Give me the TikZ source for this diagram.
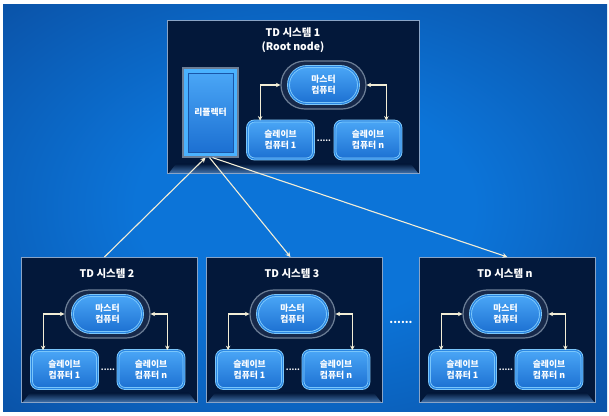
\documentclass[tikz,border=0pt]{standalone}
\usepackage{fontspec}
\setmainfont{Noto Sans CJK KR}
\usetikzlibrary{arrows.meta,calc}

\definecolor{bgin}{HTML}{0C74D8}
\definecolor{bgmid}{HTML}{0A4C9E}
\definecolor{bgout}{HTML}{0B2352}
\definecolor{boxfill}{HTML}{03183A}
\definecolor{boxedge}{HTML}{8AA4C6}
\definecolor{floorc}{HTML}{3F6FA8}
\definecolor{nodeblue}{HTML}{1C70D2}
\definecolor{nodelight}{HTML}{4AA6F6}
\definecolor{nodeedge}{HTML}{86D0FF}
\definecolor{coregroove}{HTML}{2A86E2}
\definecolor{ringfill}{HTML}{17294A}
\definecolor{ringedge}{HTML}{6C7E96}
\definecolor{reflcyan}{HTML}{4AB2FF}
\definecolor{refline}{HTML}{1A56A8}
\definecolor{arrowc}{HTML}{F2EDD6}

\pgfdeclareradialshading{bgshade}{\pgfpoint{0bp}{0bp}}{color(0bp)=(bgin); color(14bp)=(bgin); color(40bp)=(bgmid); color(68bp)=(bgout)}

\newcommand\floorstrip[1]{%
  \shade[top color=boxfill, bottom color=floorc]
    ($(#1.south west)+(2,-1)$) -- ($(#1.south east)+(-2,-1)$) --
    ($(#1.south east)+(-9,-10)$) -- ($(#1.south west)+(9,-10)$) -- cycle;}

\begin{document}
\begin{tikzpicture}[x=1pt,y=-1pt,
  sysbox/.style={draw=boxedge, line width=0.9pt, fill=boxfill, inner sep=0pt, anchor=north west},
  title/.style={text=white, font=\bfseries\fontsize{10.5}{14}\selectfont, align=center, inner sep=0pt},
  mring/.style={draw=ringedge, line width=1.2pt, fill=ringfill, minimum width=85pt, minimum height=48pt, rounded corners=23.9pt, inner sep=0pt},
  mcore/.style={draw=nodeedge, double=coregroove, double distance=1.2pt, line width=0.8pt, top color=nodelight, bottom color=nodeblue, minimum width=70pt, minimum height=37pt, rounded corners=18.4pt, inner sep=0pt, text=white, font=\bfseries\fontsize{8.8}{11}\selectfont, align=center},
  slave/.style={draw=nodeedge, double=coregroove, double distance=1.2pt, line width=0.8pt, top color=nodelight, bottom color=nodeblue, minimum width=66pt, minimum height=38pt, rounded corners=7pt, inner sep=0pt, text=white, font=\bfseries\fontsize{8.8}{11}\selectfont, align=center},
  biarrow/.style={draw=arrowc, line width=1.1pt, {Stealth[length=4.5pt,width=4.5pt]}-{Stealth[length=4.5pt,width=4.5pt]}},
  mainarrow/.style={draw=arrowc, line width=1.1pt, -{Stealth[length=5pt,width=5pt]}},
  dots/.style={text=white, font=\bfseries\fontsize{8}{8}\selectfont, inner sep=0pt},
  bigdots/.style={text=white, font=\bfseries\fontsize{11}{11}\selectfont, inner sep=0pt},
]
\useasboundingbox (0,0) rectangle (609,415);
\fill[white] (0,0) rectangle (609,415);
\shade[shading=bgshade] (3,4) rectangle (607,411);

% ---------- top system ----------
\node[sysbox, minimum width=252pt, minimum height=153pt] (b1) at (167,20) {};
\floorstrip{b1}
\node[title] (t1) at (293,40) {TD 시스템 1\\(Root node)};
\node[mring] (m1) at (323.5,85) {};
\node[mcore] (m1in) at (m1.center) {마스터\\컴퓨터};
\node[slave] (s1a) at (280.5,140) {슬레이브\\컴퓨터 1};
\node[slave] (s1n) at (368,140) {슬레이브\\컴퓨터 n};
\node[dots] (d1) at (324,141) {.....};
\draw[biarrow] (m1.west) -| ([xshift=13pt]s1a.north west);
\draw[biarrow] (m1.east) -| ([xshift=-15pt]s1n.north east);

% reflector
\node[draw=ringedge, line width=1.2pt, fill=reflcyan, minimum width=55pt, minimum height=89pt, inner sep=0pt] (ref) at (210.5,112.5) {};
\node[draw=refline, line width=0.8pt, top color=nodelight, bottom color=nodeblue, minimum width=45pt, minimum height=79pt, inner sep=0pt, text=white, font=\bfseries\fontsize{8.8}{10}\selectfont] (refin) at (ref.center) {리플렉터};

% ---------- lower systems ----------
\foreach \k/\L in {2/21, 3/206, n/419}{
  \node[sysbox, minimum width=176pt, minimum height=145pt] (b\k) at (\L,257) {};
  \floorstrip{b\k}
  \node[title] (t\k) at (\L+86,274) {TD 시스템 \k};
  \node[mring] (m\k) at (\L+86.5,314) {};
  \node[mcore] (m\k in) at (m\k.center) {마스터\\컴퓨터};
  \node[slave] (s\k a) at (\L+43.5,369.5) {슬레이브\\컴퓨터 1};
  \node[slave] (s\k n) at (\L+130,369.5) {슬레이브\\컴퓨터 n};
  \node[dots] (d\k) at (\L+87,370) {.....};
  \draw[biarrow] (m\k.west) -| ([xshift=12pt]s\k a.north west);
  \draw[biarrow] (m\k.east) -| ([xshift=-17pt]s\k n.north east);
}

\node[bigdots] (bd) at (401,322) {......};

% ---------- main arrows ----------
\draw[mainarrow] ([xshift=-5pt]b2.north) -- ([xshift=-5pt]ref.south);
\draw[mainarrow] ([xshift=-1pt]ref.south) -- ([xshift=-4pt]b3.north);
\draw[mainarrow] ([xshift=2pt]ref.south) -- (bn.north);
\end{tikzpicture}
\end{document}
